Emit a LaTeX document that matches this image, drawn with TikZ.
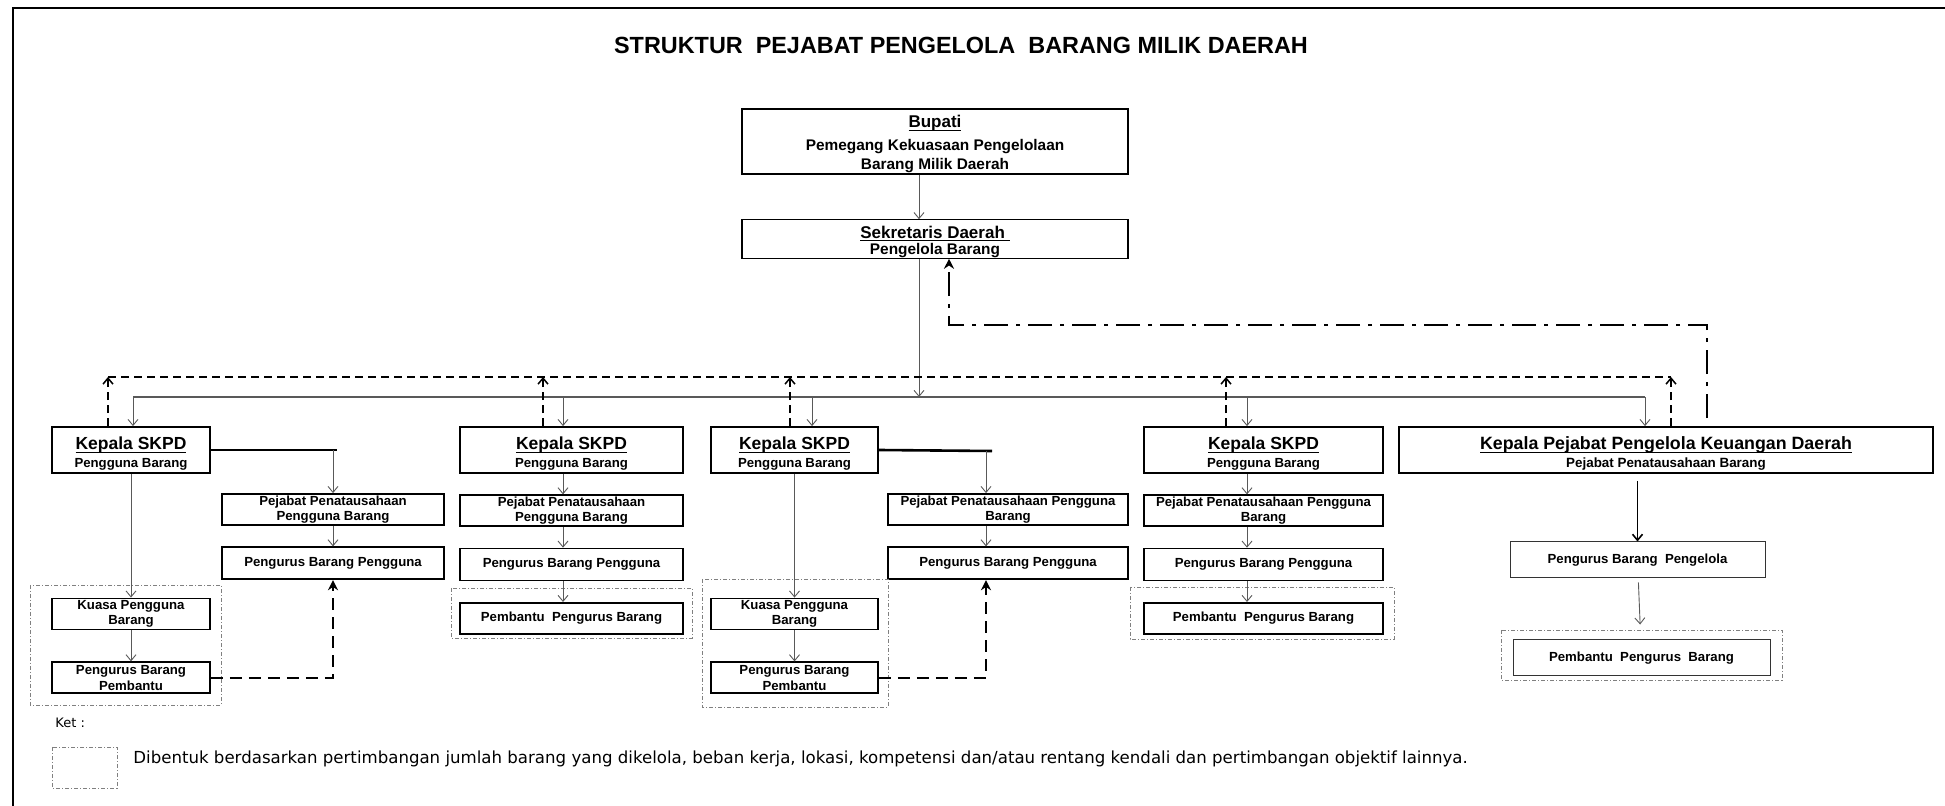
\documentclass[tikz,border=0pt]{standalone}
\usepackage{fontspec}
\setmainfont{Liberation Sans}
\newfontfamily\ketfont{DejaVu Sans}
\usetikzlibrary{arrows.meta, positioning}
\tikzstyle{arrow} = [-{Straight Barb[length=3pt,width=5pt]}, draw=black!65, line width=0.45pt]
\tikzstyle{bus} = [draw=black!65, line width=0.6pt]
\tikzstyle{link} = [line width=1.3pt]
\tikzstyle{fback} = [dash pattern=on 4pt off 2.5pt, line width=0.75pt]
\tikzstyle{fbackthick} = [dash pattern=on 6pt off 3.5pt, line width=1.2pt, -{Stealth[length=5pt,width=5pt]}]
\tikzstyle{dashdot} = [dash pattern=on 12pt off 4pt on 2pt off 4pt, line width=1.4pt, -{Stealth[length=5pt,width=5pt]}]
\tikzstyle{grp} = [draw=black!50, line width=0.4pt, dash pattern=on 2pt off 1pt on 0.5pt off 1pt]
\tikzset{
	topbox/.style = {rectangle, draw=black, line width=0.6pt, minimum width=193pt, inner sep=0pt,
		align=center},
	kepbox/.style = {rectangle, draw=black, line width=0.9pt, minimum height=23pt, inner sep=0pt,
		align=center, font=\bfseries\fontsize{6.6}{9}\selectfont},
	smallbox/.style = {rectangle, draw=black, line width=0.9pt, minimum height=15.5pt, inner sep=0pt,
		align=center, font=\bfseries\fontsize{6.6}{7.8}\selectfont},
	pengelola/.style = {rectangle, draw=black!80, line width=0.5pt, minimum height=18pt, inner sep=0pt,
		align=center, font=\bfseries\fontsize{6.6}{8}\selectfont}
}
\newcommand\undl[1]{\setbox0=\hbox{#1}\rlap{\rule[-1.5pt]{\wd0}{0.6pt}}\box0}
\newcommand\skpd{\rule{0pt}{10.4pt}{\fontsize{8.75}{9}\selectfont\undl{Kepala SKPD}}\\ Pengguna Barang}

\begin{document}
\begin{tikzpicture}[x=0.5pt, y=-0.5pt, node distance=10.25pt]
\useasboundingbox (0,0) rectangle (1945,806);
\draw[line width=0.6pt] (13,830) -- (13,8) -- (1960,8);

\node (title) at (961,45) {\bfseries\fontsize{11.7}{14}\selectfont STRUKTUR\ \ PEJABAT PENGELOLA\ \ BARANG MILIK DAERAH};

% Placement of the boxes
\node (bupati) [topbox, minimum height=32.5pt, font=\bfseries\fontsize{7.7}{9.3}\selectfont] at (935,141.5) {\rule{0pt}{8.7pt}{\fontsize{8.5}{9}\selectfont\undl{Bupati}}\\[2.2pt] Pemegang Kekuasaan Pengelolaan\\ Barang Milik Daerah};
\node (sekda) [topbox, minimum height=19pt, font=\bfseries\fontsize{7.7}{8.35}\selectfont] at (935,239) {\rule{0pt}{9.2pt}{\fontsize{8.5}{9}\selectfont\undl{Sekretaris Daerah\ }}\\ Pengelola Barang};

\node (kep1) [kepbox, minimum width=79pt] at (131,450) {\skpd};
\node (kep2) [kepbox, minimum width=111.5pt] at (571.5,450) {\skpd};
\node (kep3) [kepbox, minimum width=83.5pt] at (794.5,450) {\skpd};
\node (kep4) [kepbox, minimum width=119.5pt] at (1263.5,450) {\skpd};
\node (kep5) [kepbox, minimum width=267pt, font=\bfseries\fontsize{6.7}{9}\selectfont] at (1666,450) {\rule{0pt}{10.4pt}{\fontsize{8.9}{9}\selectfont\undl{Kepala Pejabat Pengelola Keuangan Daerah}}\\ Pejabat Penatausahaan Barang};

% column 1
\node (pj1) [smallbox, minimum width=111pt] at (333,509.5) {Pejabat Penatausahaan\\ Pengguna Barang};
\node (pg1) [smallbox, minimum width=111pt, minimum height=16pt, below=of pj1] {Pengurus Barang Pengguna};
\node (kuasa1) [smallbox, minimum width=79pt] at (131,614) {Kuasa Pengguna\\ Barang};
\node (pemb1) [smallbox, minimum width=79pt, below=15.5pt of kuasa1] {Pengurus Barang\\ Pembantu};

% column 2
\node (pj2) [smallbox, minimum width=111.5pt, below=of kep2] {Pejabat Penatausahaan\\ Pengguna Barang};
\node (pg2) [smallbox, minimum width=111.5pt, minimum height=16pt, below=of pj2] {Pengurus Barang Pengguna};
\node (pb2) [smallbox, minimum width=111.5pt, below=of pg2] {Pembantu\ \ Pengurus Barang};

% column 3
\node (pj3) [smallbox, minimum width=120pt] at (1008,509.5) {Pejabat Penatausahaan Pengguna\\ Barang};
\node (pg3) [smallbox, minimum width=120pt, minimum height=16pt, below=of pj3] {Pengurus Barang Pengguna};
\node (kuasa3) [smallbox, minimum width=83.5pt] at (794.5,614) {Kuasa Pengguna\\ Barang};
\node (pemb3) [smallbox, minimum width=83.5pt, below=15.5pt of kuasa3] {Pengurus Barang\\ Pembantu};

% column 4
\node (pj4) [smallbox, minimum width=119.5pt, below=of kep4] {Pejabat Penatausahaan Pengguna\\ Barang};
\node (pg4) [smallbox, minimum width=119.5pt, minimum height=16pt, below=of pj4] {Pengurus Barang Pengguna};
\node (pb4) [smallbox, minimum width=119.5pt, below=of pg4] {Pembantu\ \ Pengurus Barang};

% column 5
\node (pbp5) [pengelola, minimum width=127.5pt] at (1637.5,560) {Pengurus Barang\ \ Pengelola};
\node (pb5) [pengelola, minimum width=128.5pt] at (1641.5,658) {Pembantu\ \ Pengurus\ \ Barang};

% groups
\draw[grp] (30,585) rectangle (221,705);
\draw[grp] (451,588) rectangle (692,638);
\draw[grp] (702,579) rectangle (888,707);
\draw[grp] (1130,587) rectangle (1394,639);
\draw[grp] (1501,630) rectangle (1782,680);

% Drawing of Lines
\coordinate (b0) at (919,397);
\coordinate (b1) at (133,397);
\coordinate (b2) at (563,397);
\coordinate (b3) at (812,397);
\coordinate (b4) at (1247,397);
\coordinate (b5) at (1645,397);
\draw[arrow] (bupati.south -| b0) -- (sekda.north -| b0);
\draw[arrow] (sekda.south -| b0) -- (b0);
\draw[bus] (b1) -- (b5);
\foreach \i in {1,...,5}
	\draw[arrow] (b\i) -- (b\i |- kep\i.north);

\coordinate (f1) at (108,377);
\coordinate (f2) at (543,377);
\coordinate (f3) at (790,377);
\coordinate (f4) at (1226,377);
\coordinate (f5) at (1671,377);
\draw[fback] (f1) -- (f5);
\foreach \i in {1,...,5}
	\draw[fback, -{Straight Barb[length=3pt,width=5pt]}] (f\i |- kep\i.north) -- (f\i);

\coordinate (d1) at (1707,325);
\coordinate (d2) at (949,325);
\draw[dashdot, shorten <=4pt] (d1 |- kep5.north) -- (d1) -- (d2) -- (d2 |- sekda.south);

% column 1 lines
\draw[link] (kep1.east) -- ([xshift=2pt]kep1.east -| pj1.north);
\draw[arrow] (kep1.east -| pj1.north) -- (pj1.north);
\draw[arrow] (pj1) -- (pg1);
\draw[arrow] (kep1) -- (kuasa1);
\draw[arrow] (kuasa1) -- (pemb1);
\draw[fbackthick] (pemb1.east) -| (pg1.south);

% column 2 lines
\draw[arrow] (b2 |- kep2.south) -- (b2 |- pj2.north);
\draw[arrow] (b2 |- pj2.south) -- (b2 |- pg2.north);
\draw[arrow] (b2 |- pg2.south) -- (b2 |- pb2.north);

% column 3 lines
\coordinate (j3) at (986,451);
\draw[link] (kep3.east) -- ([xshift=3pt]j3);
\draw[arrow] (j3) -- (j3 |- pj3.north);
\draw[arrow] (j3 |- pj3.south) -- (j3 |- pg3.north);
\draw[arrow] (kep3) -- (kuasa3);
\draw[arrow] (kuasa3) -- (pemb3);
\draw[fbackthick] (pemb3.east) -| (j3 |- pg3.south);

% column 4 lines
\draw[arrow] (b4 |- kep4.south) -- (b4 |- pj4.north);
\draw[arrow] (b4 |- pj4.south) -- (b4 |- pg4.north);
\draw[arrow] (b4 |- pg4.south) -- (b4 |- pb4.north);

% column 5 lines
\draw[arrow, draw=black, line width=0.8pt, shorten <=3.5pt] (kep5.south -| pbp5.north) -- (pbp5.north);
\draw[arrow, shorten <=2pt, shorten >=7.5pt] (pbp5) -- (pb5);

% legend
\node (ket) [anchor=west, inner sep=0pt] at (55,723) {\ketfont\fontsize{6.5}{7}\selectfont Ket :};
\draw[grp] (52,747) rectangle (117,788);
\node (keterangan) [anchor=west, inner sep=0pt] at (133,759) {\ketfont\fontsize{8.3}{10}\selectfont Dibentuk berdasarkan pertimbangan jumlah barang yang dikelola, beban kerja, lokasi, kompetensi dan/atau rentang kendali dan pertimbangan objektif lainnya.};

\end{tikzpicture}
\end{document}
